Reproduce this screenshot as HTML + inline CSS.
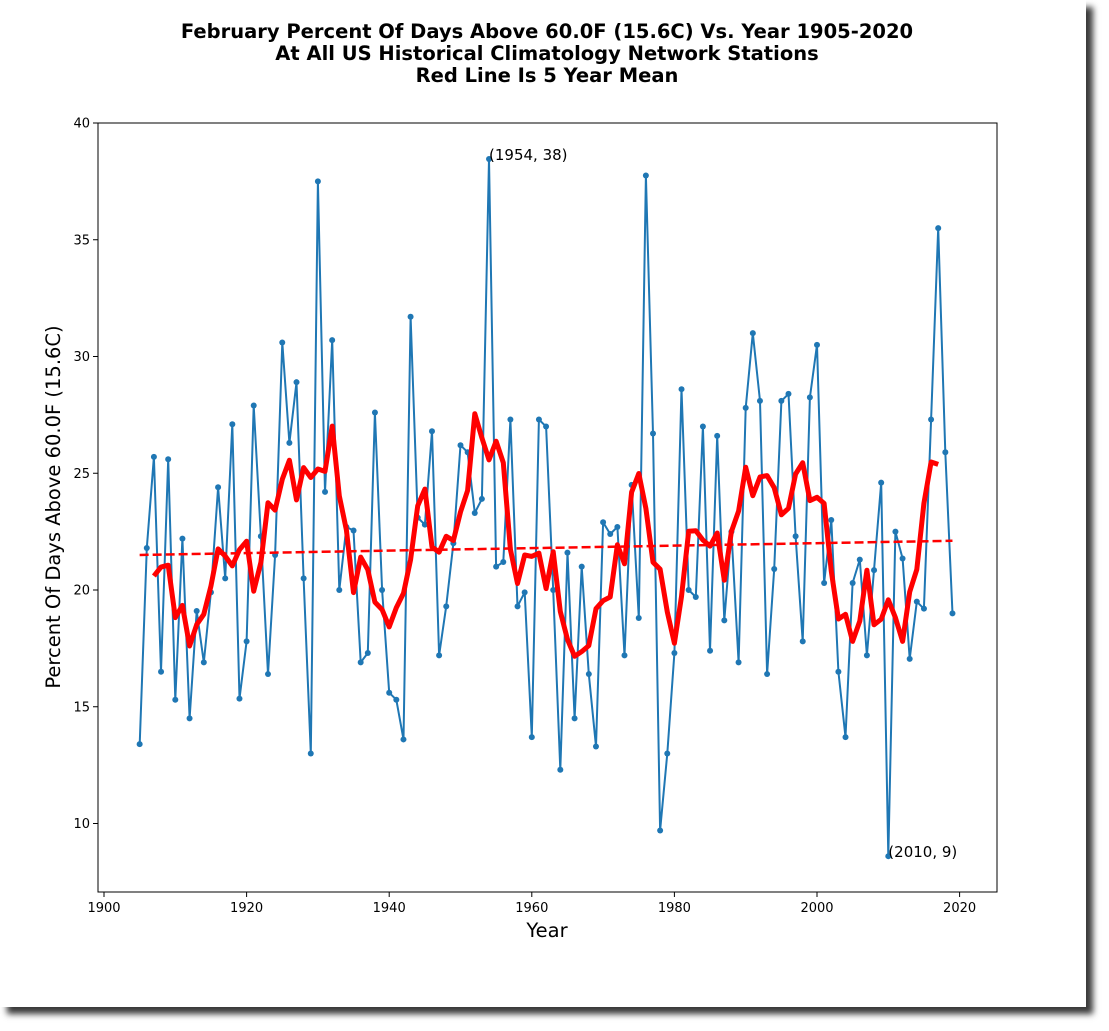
<!DOCTYPE html>
<html><head><meta charset="utf-8">
<style>
html,body{margin:0;padding:0;background:#fff;width:1109px;height:1031px;overflow:hidden}
#card{position:absolute;left:0;top:0;width:1086px;height:1007px;background:#fff;box-shadow:7px 7px 6px #3a3a3a}
svg{position:absolute;left:0;top:0}
text{font-family:"DejaVu Sans","Liberation Sans",sans-serif;fill:#000}
</style></head>
<body>
<div id="card"></div>
<svg id="chart" width="1109" height="1031">
<g font-weight="bold" font-size="19.5" text-anchor="middle">
<text x="547" y="38">February Percent Of Days Above 60.0F (15.6C) Vs. Year 1905-2020</text>
<text x="547" y="60">At All US Historical Climatology Network Stations</text>
<text x="547" y="82">Red Line Is 5 Year Mean</text>
</g>
<text transform="translate(60,507) rotate(-90)" font-size="19.5" text-anchor="middle"><tspan x="0" y="0">Percent Of Days Above 60.0F (15.6C)</tspan></text>
<text x="547" y="937" font-size="19.5" text-anchor="middle">Year</text>
<g id="axes"></g>
<g id="marks"></g>
</svg>
<script>
const years = [];
for (let y = 1905; y <= 2019; y++) years.push(y);
const values = [13.4,21.8,25.7,16.5,25.6,15.3,22.2,14.5,19.1,16.9,19.9,24.4,20.5,27.1,15.35,17.8,27.9,22.3,16.4,21.5,
30.6,26.3,28.9,20.5,13.0,37.5,24.2,30.7,20.0,22.7,22.55,16.9,17.3,27.6,20.0,15.6,15.3,13.6,31.7,23.1,
22.8,26.8,17.2,19.3,22.0,26.2,25.9,23.3,23.9,38.46,21.0,21.2,27.3,19.3,19.9,13.7,27.3,27.0,20.0,12.3,
21.6,14.5,21.0,16.4,13.3,22.9,22.4,22.7,17.2,24.5,18.8,37.75,26.7,9.7,13.0,17.3,28.6,20.0,19.7,27.0,
17.4,26.6,18.7,22.5,16.9,27.8,31.0,28.1,16.4,20.9,28.1,28.4,22.3,17.8,28.25,30.5,20.3,23.0,16.5,13.7,
20.3,21.3,17.2,20.85,24.6,8.6,22.5,21.35,17.05,19.5,19.2,27.3,35.5,25.9,19.0];
const xTicks = [1900,1920,1940,1960,1980,2000,2020];
const yTicks = [10,15,20,25,30,35,40];
const annotations = [[1954,38],[2010,9]];

const L=98,R=997,T=123,B=892;
const X = yr => 104 + (yr-1900)*7.13;
const Y = v => 123 + (40-v)*23.35;
const NS="http://www.w3.org/2000/svg";
function mk(tag, attrs, parent){const e=document.createElementNS(NS,tag);for(const k in attrs)e.setAttribute(k,attrs[k]);parent.appendChild(e);return e;}
const axes=document.getElementById('axes'), marks=document.getElementById('marks');

const frame = mk('rect',{x:L,y:T,width:R-L,height:B-T,fill:'none',stroke:'#000','stroke-width':1},axes);


xTicks.forEach(t=>{
  const x=X(t);
  const ln=mk('line',{x1:x,x2:x,y1:B,y2:B+5,stroke:'#000'},axes);
  
  
  const tx=mk('text',{x:x,y:B+20,'font-size':13,'text-anchor':'middle'},axes);
  tx.textContent=t;
  
  
});
yTicks.forEach(t=>{
  const y=Y(t);
  const ln=mk('line',{x1:L-5,x2:L,y1:y,y2:y,stroke:'#000'},axes);
  
  
  const tx=mk('text',{x:L-8,y:y+4.5,'font-size':13,'text-anchor':'end'},axes);
  tx.textContent=t;
  
  
});

const pts = years.map((yr,i)=>X(yr).toFixed(1)+','+Y(values[i]).toFixed(1)).join(' ');
const line = mk('polyline',{points:pts,fill:'none',stroke:'#1f77b4','stroke-width':2,'stroke-linejoin':'round'},marks);


years.forEach((yr,i)=>{
  const c=mk('circle',{cx:X(yr),cy:Y(values[i]),r:3,fill:'#1f77b4'},marks);
  
  
});

const n=years.length, mx=years.reduce((a,b)=>a+b)/n, my=values.reduce((a,b)=>a+b)/n;
let sxy=0,sxx=0; years.forEach((yr,i)=>{sxy+=(yr-mx)*(values[i]-my);sxx+=(yr-mx)*(yr-mx);});
const slope=sxy/sxx, icpt=my-slope*mx;
const y0=years[0], y1=years[n-1];
const trend=mk('line',{x1:X(y0),y1:Y(icpt+slope*y0),x2:X(y1),y2:Y(icpt+slope*y1),stroke:'#ff0000','stroke-width':2.5,'stroke-dasharray':'9,4'},marks);



const mp=[];
for(let i=2;i<n-2;i++){let s=0;for(let k=-2;k<=2;k++)s+=values[i+k];mp.push(X(years[i]).toFixed(1)+','+Y(s/5).toFixed(1));}
const mean=mk('polyline',{points:mp.join(' '),fill:'none',stroke:'#ff0000','stroke-width':5,'stroke-linejoin':'round'},marks);



annotations.forEach(a=>{
  const i=years.indexOf(a[0]);
  const t=mk('text',{x:X(a[0]),y:Y(values[i])+1,'font-size':15},marks);
  t.textContent='('+a[0]+', '+a[1]+')';
  
  
});
</script>
</body></html>
